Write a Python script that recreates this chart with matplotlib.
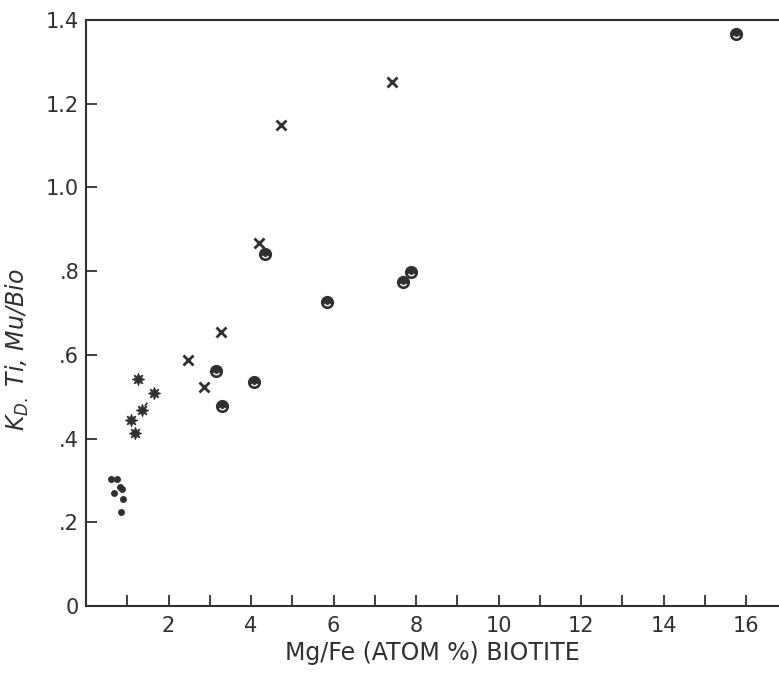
import matplotlib.pyplot as plt
from matplotlib.path import Path

# Mg/Fe (atom %) in biotite vs K_D Ti (Mu/Bio)
dot_x = [0.60, 0.74, 0.82, 0.87, 0.68, 0.90, 0.84]
dot_y = [0.303, 0.303, 0.285, 0.279, 0.271, 0.255, 0.224]

star_x = [1.26, 1.66, 1.36, 1.10, 1.18]
star_y = [0.542, 0.510, 0.468, 0.444, 0.414]

cross_x = [7.42, 4.73, 4.19, 3.28, 2.47, 2.87]
cross_y = [1.252, 1.149, 0.868, 0.655, 0.588, 0.524]

ring_x = [15.75, 4.33, 7.88, 7.68, 5.83, 3.14, 4.07, 3.30]
ring_y = [1.366, 0.840, 0.799, 0.774, 0.726, 0.562, 0.535, 0.478]

x_ticks = list(range(1, 17))
x_labels = [str(t) if t % 2 == 0 else "" for t in x_ticks]
y_ticks = [0, 0.2, 0.4, 0.6, 0.8, 1.0, 1.2, 1.4]
y_labels = ["0", ".2", ".4", ".6", ".8", "1.0", "1.2", "1.4"]

ink = "#303030"

fig = plt.figure(figsize=(7.79, 6.74), dpi=100)
ax = fig.add_axes([86 / 779, 68 / 674, 1 - 86 / 779, 586 / 674])
ax.set_xlim(0, (779 - 85.4) / 41.3)
ax.set_ylim(0, 1.4)

# crescent highlight inside the ringed dots (marker paths get rescaled,
# so the arc size is set through its own markersize)
smile = Path.arc(205, 335)

ax.plot(dot_x, dot_y, "o", color=ink, ms=5, mew=0)
ax.plot(star_x[1:4], star_y[1:4], color=ink, lw=1.2, ls=(4, (2.5, 9)))
ax.plot(star_x, star_y, marker=(8, 1, 0), ls="none", color=ink, ms=9, mew=0.6)
ax.plot(cross_x, cross_y, "x", color=ink, ms=6.5, mew=2)
ax.plot(ring_x, ring_y, "o", color=ink, ms=9.5, mew=0)
ax.plot(ring_x, ring_y, marker=smile, ls="none", mfc="none", mec="white",
        ms=4.6, mew=1.0)

for side in ["left", "bottom", "top"]:
    ax.spines[side].set_linewidth(1.5)
    ax.spines[side].set_color(ink)
ax.spines["right"].set_visible(False)

ax.set_xticks(x_ticks)
ax.set_xticklabels(x_labels)
ax.set_yticks(y_ticks)
ax.set_yticklabels(y_labels)
ax.tick_params(direction="in", length=8, width=1.3, color=ink,
               labelsize=15, labelcolor=ink)
ax.tick_params(axis="x", pad=7)
ax.tick_params(axis="y", pad=5)

ax.set_xlabel("Mg/Fe (ATOM %) BIOTITE", fontsize=17, color=ink, labelpad=4)
ax.set_ylabel(r"$K_{D.}$ Ti, Mu/Bio", fontsize=17, color=ink, style="italic")
ax.yaxis.set_label_coords(-0.079, 0.437)

fig.savefig("out.png", dpi=100)
